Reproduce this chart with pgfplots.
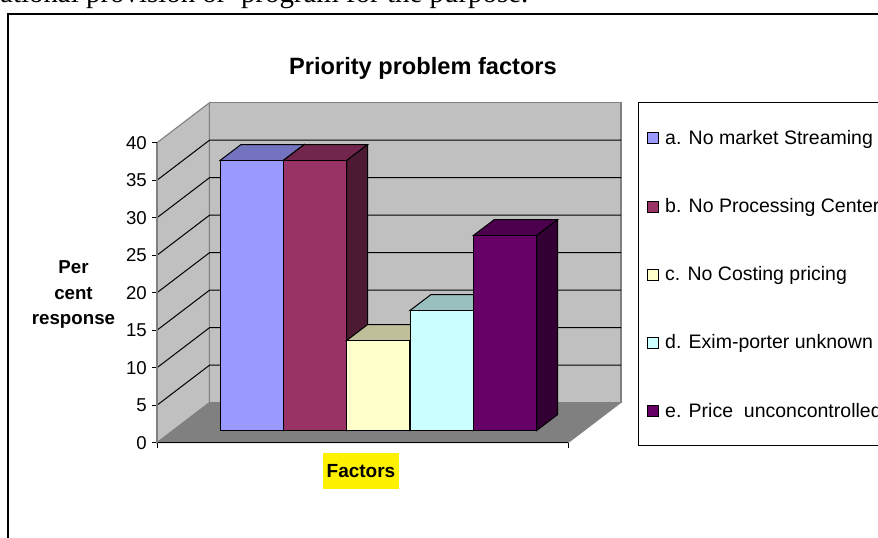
\documentclass[border=0pt]{standalone}
\usepackage{fontspec}
\setmainfont{Liberation Sans}
\newfontfamily\serifpage{Liberation Serif}
\usepackage{pgfplots}
\pgfplotsset{compat=1.18}
\definecolor{wall}{HTML}{C0C0C0}
\definecolor{floorc}{HTML}{808080}
\definecolor{ca}{HTML}{9999FF}\definecolor{cat}{HTML}{7373BF}\definecolor{cas}{HTML}{4D4D80}
\definecolor{cb}{HTML}{993366}\definecolor{cbt}{HTML}{73264D}\definecolor{cbs}{HTML}{4D1A33}
\definecolor{cc}{HTML}{FFFFCC}\definecolor{cct}{HTML}{BFBF99}\definecolor{ccs}{HTML}{808066}
\definecolor{cd}{HTML}{CCFFFF}\definecolor{cdt}{HTML}{99BFBF}\definecolor{cds}{HTML}{668080}
\definecolor{ce}{HTML}{660066}\definecolor{cet}{HTML}{4D004D}\definecolor{ces}{HTML}{330033}
\newcommand{\fs}[1]{\fontsize{#1}{#1}\selectfont}
\begin{document}
\begin{tikzpicture}
\useasboundingbox (0,0) rectangle (878pt,-538pt);
\node[anchor=base west,inner sep=0pt,font=\serifpage\fs{28.9}] at (0pt,-2.5pt) {ational provision or\ \ program for the purpose.};
\draw[black,line width=1.1pt] (8pt,-600pt) -- (8pt,-14pt) -- (900pt,-14pt);
\draw[black,line width=1pt,fill=white] (638pt,-102pt) rectangle (900pt,-445pt);
\begin{axis}[
  at={(157pt,-442.7pt)},anchor=south west,
  x=1pt,y=7.5pt,xmin=157,xmax=568,ymin=0,ymax=40,
  clip=false,axis on top=true,
  axis x line=bottom,axis y line=left,
  x axis line style={-,black,line width=1.3pt},
  y axis line style={-,gray,line width=1.1pt},
  xtick={157,568},xticklabels={,},
  ytick={0,5,10,15,20,25,30,35,40},
  tick align=outside,major tick length=5pt,
  tick style={black,line width=1pt},
  /pgf/number format/assume math mode=true,
  yticklabel style={font=\fs{18.6},inner sep=0pt,xshift=-5pt},
  title={Priority problem factors},
  every axis title/.style={at={(axis cs:423,49.03)},anchor=base,font=\bfseries\fs{23.6},inner sep=0pt},
  xlabel={Factors},
  every axis x label/.style={at={(axis cs:361,-3.8)},anchor=center,font=\bfseries\fs{19},fill=yellow,minimum width=76pt,minimum height=36pt,inner sep=0pt},
  ylabel={Per\\[6.8pt]cent\\[6.8pt]response},
  every axis y label/.style={at={(axis cs:73.5,19.7)},anchor=center,align=center,font=\bfseries\fs{18.7},inner sep=0pt},
  legend style={at={(axis cs:647,42.17)},anchor=north west,draw=none,fill=none,inner sep=0pt,
    font=\fs{19.5},row sep=46.5pt,
    nodes={inner sep=0pt,text height=14pt,text depth=4pt,anchor=west}},
  legend cell align=left,
  legend image code/.code={\draw[#1,line width=1pt,yshift=-11.2pt] (0pt,-5.5pt) rectangle (11pt,5.5pt);\path (17pt,0pt);},
]
% walls and floor
\addplot[forget plot,fill=wall,draw=floorc,line width=1.1pt] coordinates {(157,0) (209.5,5.333) (209.5,45.333) (157,40)} --cycle;
\addplot[forget plot,fill=wall,draw=floorc,line width=1.1pt] coordinates {(209.5,5.333) (621,5.333) (621,45.333) (209.5,45.333)} --cycle;
\addplot[forget plot,fill=floorc,draw=floorc,line width=1pt] coordinates {(157,0) (568,0) (620.5,5.333) (209.5,5.333)} --cycle;
% gridlines
\addplot[forget plot,black,line width=1pt] coordinates {(157,5) (209.5,10.333) (621,10.333)};
\addplot[forget plot,black,line width=1pt] coordinates {(157,10) (209.5,15.333) (621,15.333)};
\addplot[forget plot,black,line width=1pt] coordinates {(157,15) (209.5,20.333) (621,20.333)};
\addplot[forget plot,black,line width=1pt] coordinates {(157,20) (209.5,25.333) (621,25.333)};
\addplot[forget plot,black,line width=1pt] coordinates {(157,25) (209.5,30.333) (621,30.333)};
\addplot[forget plot,black,line width=1pt] coordinates {(157,30) (209.5,35.333) (621,35.333)};
\addplot[forget plot,black,line width=1pt] coordinates {(157,35) (209.5,40.333) (621,40.333)};
% bar a
\addplot[forget plot,yshift=12.2pt,fill=cat,draw=black,line width=1pt] coordinates {(220,36) (283.33,36) (304.33,38.13) (241,38.13)} --cycle;
\addplot[forget plot,yshift=12.2pt,fill=cas,draw=black,line width=1pt] coordinates {(283.33,0) (304.33,2.13) (304.33,38.13) (283.33,36)} --cycle;
\addplot[ybar,bar width=63.33pt,bar shift=0pt,yshift=12.2pt,fill=ca,draw=black,line width=1pt] coordinates {(251.67,36)};
\addlegendentry{a. No market Streaming}
% bar b
\addplot[forget plot,yshift=12.2pt,fill=cbt,draw=black,line width=1pt] coordinates {(283.33,36) (346.67,36) (367.67,38.13) (304.33,38.13)} --cycle;
\addplot[forget plot,yshift=12.2pt,fill=cbs,draw=black,line width=1pt] coordinates {(346.67,0) (367.67,2.13) (367.67,38.13) (346.67,36)} --cycle;
\addplot[ybar,bar width=63.33pt,bar shift=0pt,yshift=12.2pt,fill=cb,draw=black,line width=1pt] coordinates {(315,36)};
\addlegendentry{b. No Processing Center}
% bar c
\addplot[forget plot,yshift=12.2pt,fill=cct,draw=black,line width=1pt] coordinates {(346.67,12) (410,12) (431,14.13) (367.67,14.13)} --cycle;
\addplot[forget plot,yshift=12.2pt,fill=ccs,draw=black,line width=1pt] coordinates {(410,0) (431,2.13) (431,14.13) (410,12)} --cycle;
\addplot[ybar,bar width=63.33pt,bar shift=0pt,yshift=12.2pt,fill=cc,draw=black,line width=1pt] coordinates {(378.33,12)};
\addlegendentry{c. No Costing pricing}
% bar d
\addplot[forget plot,yshift=12.2pt,fill=cdt,draw=black,line width=1pt] coordinates {(410,16) (473.33,16) (494.33,18.13) (431,18.13)} --cycle;
\addplot[forget plot,yshift=12.2pt,fill=cds,draw=black,line width=1pt] coordinates {(473.33,0) (494.33,2.13) (494.33,18.13) (473.33,16)} --cycle;
\addplot[ybar,bar width=63.33pt,bar shift=0pt,yshift=12.2pt,fill=cd,draw=black,line width=1pt] coordinates {(441.67,16)};
\addlegendentry{d. Exim-porter unknown}
% bar e
\addplot[forget plot,yshift=12.2pt,fill=cet,draw=black,line width=1pt] coordinates {(473.33,26) (536.67,26) (557.67,28.13) (494.33,28.13)} --cycle;
\addplot[forget plot,yshift=12.2pt,fill=ces,draw=black,line width=1pt] coordinates {(536.67,0) (557.67,2.13) (557.67,28.13) (536.67,26)} --cycle;
\addplot[ybar,bar width=63.33pt,bar shift=0pt,yshift=12.2pt,fill=ce,draw=black,line width=1pt] coordinates {(505,26)};
\addlegendentry{e. Price\ \ unconcontrolled}
\end{axis}
\end{tikzpicture}
\end{document}
